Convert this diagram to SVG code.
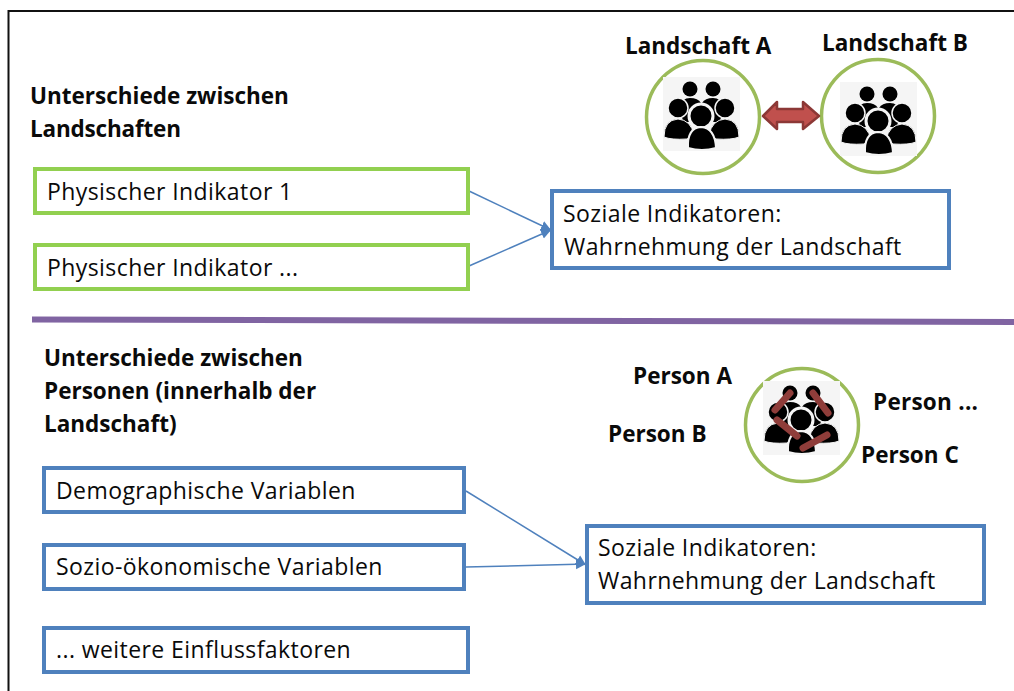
<svg xmlns="http://www.w3.org/2000/svg" xmlns:xlink="http://www.w3.org/1999/xlink" width="1014" height="691" viewBox="0 0 1014 691">
<style>
text{font-family:"Open Sans","Noto Sans","Liberation Sans",sans-serif;fill:#0a0a0a}
.h{font-size:22.5px;font-weight:700}
.n{font-size:23px;letter-spacing:.42px}
.g{fill:#fff;stroke:#92d050;stroke-width:4}
.b{fill:#fff;stroke:#4f81bd;stroke-width:4}
.c{fill:#fff;stroke:#9bbb59;stroke-width:3.5}
.l{fill:none;stroke:#4f81bd;stroke-width:1.5}
.r{stroke:#8f3d3a;stroke-width:7;stroke-linecap:round;fill:none}
</style>
<defs>
<marker id="ah" markerUnits="userSpaceOnUse" markerWidth="12" markerHeight="12" refX="10" refY="6" orient="auto"><path d="M0 1L10 6L0 11Z" fill="#4f81bd"/></marker>
<g id="people">
<rect width="77" height="74" fill="#f5f5f5"/>
<circle cx="27" cy="12" r="7.500"/><circle cx="50" cy="12" r="7.500"/>
<path d="M17 29Q19 21 27 21Q35 21 38 26L29 45H20Z"/><path d="M60 29Q58 21 50 21Q42 21 39 26L48 45H57Z"/>
<circle cx="15" cy="31" r="10" stroke="#f5f5f5" stroke-width="1.500"/><circle cx="62" cy="31" r="10" stroke="#f5f5f5" stroke-width="1.500"/>
<path d="M1 60Q1 43 15 42Q28 43 31 58L24 62Q8 63 1 60Z" stroke="#f5f5f5" stroke-width="1"/>
<path d="M76 60Q76 43 62 42Q49 43 46 58L53 62Q69 63 76 60Z" stroke="#f5f5f5" stroke-width="1"/>
<circle cx="38" cy="39" r="12" stroke="#f5f5f5" stroke-width="3"/>
<path d="M25 71Q24 51 38 50Q52 51 53 71Q39 75 25 71Z" stroke="#f5f5f5" stroke-width="2"/>
</g>
</defs>
<g id="frame"><path d="M1014 11H8.500V691" fill="none" stroke="#111" stroke-width="2"/></g>
<g id="divider"><path d="M32 319.500L1014 322" fill="none" stroke="#8064a2" stroke-width="6"/></g>
<g id="connectors">
<path class="l" d="M469 191L551 230" marker-end="url(#ah)"/>
<path class="l" d="M469 266L551 230" marker-end="url(#ah)"/>
<path class="l" d="M466 491L586 565" marker-end="url(#ah)"/>
<path class="l" d="M466 567L586 564" marker-end="url(#ah)"/>
</g>
<g id="heading-landschaften"><text class="h" x="30" y="104">Unterschiede zwischen</text><text class="h" x="30" y="137" textLength="151">Landschaften</text></g>
<g id="heading-personen"><text class="h" x="44" y="366">Unterschiede zwischen</text><text class="h" x="44" y="399">Personen (innerhalb der</text><text class="h" x="44" y="432">Landschaft)</text></g>
<g id="landschaft-a"><text class="h" x="625" y="54">Landschaft A</text><circle class="c" cx="703" cy="117" r="56.500"/><use xlink:href="#people" href="#people" x="663" y="77"/></g>
<g id="landschaft-b"><text class="h" x="822" y="51">Landschaft B</text><circle class="c" cx="878" cy="116" r="56.500"/><use xlink:href="#people" href="#people" x="840" y="82"/></g>
<g id="double-arrow"><path d="M763 116L777 102V109H803V102L819 116L803 129V122H777V129Z" fill="#c0504d" stroke="#8c3836" stroke-width="2.500" stroke-linejoin="round"/></g>
<g id="indikator-1"><rect class="g" x="35" y="169" width="433" height="44"/><text class="n" x="47" y="200">Physischer Indikator 1</text></g>
<g id="indikator-2"><rect class="g" x="35" y="245" width="433" height="44"/><text class="n" x="47" y="276">Physischer Indikator ...</text></g>
<g id="soziale-1"><rect class="b" x="552" y="191" width="397" height="77"/><text class="n" x="563" y="222">Soziale Indikatoren:</text><text class="n" x="564" y="255">Wahrnehmung der Landschaft</text></g>
<g id="personen-gruppe"><circle class="c" cx="802" cy="425" r="56.500"/><use xlink:href="#people" href="#people" x="763" y="381"/>
<path class="r" d="M790 393L775 410"/><path class="r" d="M813 393L828 413"/><path class="r" d="M777 420L797 436"/><path class="r" d="M803 448L827 435"/></g>
<g id="person-a"><text class="h" x="633" y="384">Person A</text></g>
<g id="person-b"><text class="h" x="608" y="442">Person B</text></g>
<g id="person-c"><text class="h" x="861" y="463">Person C</text></g>
<g id="person-n"><text class="h" x="873" y="410" textLength="105">Person ...</text></g>
<g id="demographisch"><rect class="b" x="44" y="468" width="420" height="44"/><text class="n" x="56" y="499">Demographische Variablen</text></g>
<g id="soziooekonomisch"><rect class="b" x="44" y="545" width="420" height="44"/><text class="n" x="56" y="575">Sozio-ökonomische Variablen</text></g>
<g id="weitere"><rect class="b" x="44" y="628" width="424" height="44"/><text class="n" x="56" y="658">... weitere Einflussfaktoren</text></g>
<g id="soziale-2"><rect class="b" x="587" y="526" width="397" height="77"/><text class="n" x="598" y="556">Soziale Indikatoren:</text><text class="n" x="598" y="589">Wahrnehmung der Landschaft</text></g>
</svg>
